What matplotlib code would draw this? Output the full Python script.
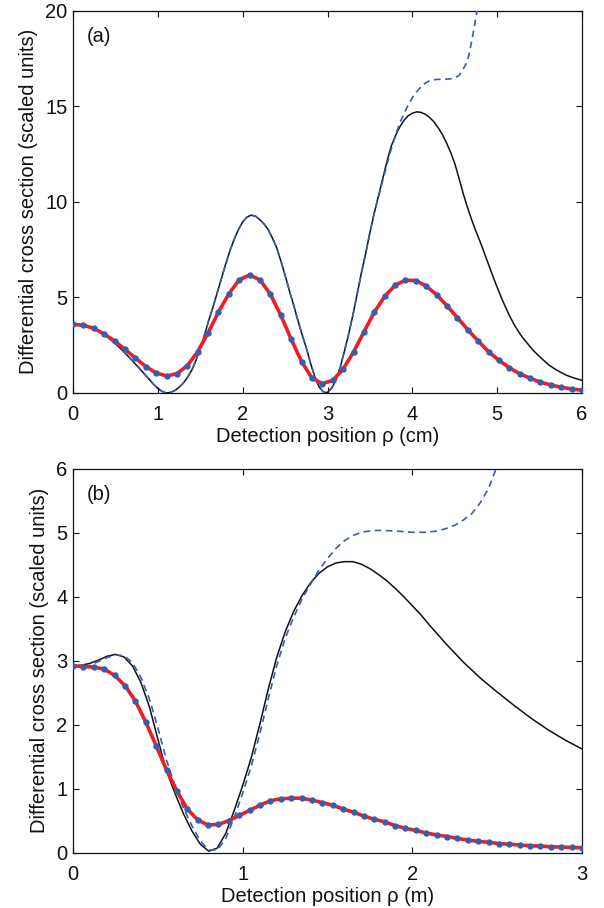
import numpy as np
import matplotlib
matplotlib.use("Agg")
import matplotlib.pyplot as plt

plt.rcParams['font.family'] = ['Liberation Sans', 'DejaVu Sans']

# ---------------- Panel (a) data ----------------
a_dot_x = np.linspace(0, 6, 50)
a_red_y = [3.59, 3.54, 3.38, 3.08, 2.72, 2.28, 1.83, 1.38, 1.05, 0.89,
           1.01, 1.43, 2.16, 3.15, 4.23, 5.19, 5.92, 6.17, 5.91, 5.16,
           4.06, 2.81, 1.64, 0.78, 0.49, 0.66, 1.25, 2.14, 3.19, 4.23,
           5.05, 5.63, 5.90, 5.88, 5.59, 5.14, 4.56, 3.94, 3.31, 2.72,
           2.16, 1.71, 1.32, 1.01, 0.77, 0.56, 0.42, 0.30, 0.21, 0.14]

a_black_x = [0.0, 0.1, 0.2, 0.3, 0.4, 0.5, 0.6, 0.7, 0.8, 0.9, 0.95, 1.0, 1.05,
             1.1, 1.15, 1.2, 1.25, 1.3, 1.35, 1.4, 1.45, 1.5, 1.55, 1.6, 1.65,
             1.7, 1.75, 1.8, 1.85, 1.9, 1.95, 2.0, 2.05, 2.1, 2.15, 2.2, 2.25,
             2.3, 2.35, 2.4, 2.45, 2.5, 2.55, 2.6, 2.65, 2.7, 2.75, 2.8, 2.85,
             2.9, 2.95, 2.98, 3.0, 3.05, 3.1, 3.15, 3.2, 3.25, 3.3, 3.35, 3.4,
             3.45, 3.5, 3.55, 3.6, 3.65, 3.7, 3.75, 3.8, 3.85, 3.9, 3.95, 4.0,
             4.05, 4.1, 4.15, 4.2, 4.25, 4.3, 4.35, 4.4, 4.45, 4.5, 4.55, 4.6,
             4.65, 4.7, 4.75, 4.8, 4.85, 4.9, 4.95, 5.0, 5.05, 5.1, 5.15, 5.2,
             5.26, 5.3, 5.42, 5.5, 5.61, 5.7, 5.81, 5.9, 6.0]
a_black_y = [3.60, 3.56, 3.45, 3.25, 2.95, 2.57, 2.15, 1.68, 1.20, 0.70, 0.45,
             0.24, 0.08, 0.0, 0.03, 0.13, 0.30, 0.52, 0.82, 1.20, 1.72, 2.35,
             3.05, 3.80, 4.50, 5.25, 6.00, 6.75, 7.45, 8.05, 8.55, 8.95, 9.20,
             9.30, 9.25, 9.07, 8.85, 8.55, 8.10, 7.60, 6.90, 6.15, 5.35, 4.60,
             3.80, 3.05, 2.35, 1.55, 0.85, 0.32, 0.06, 0.02, 0.04, 0.26, 0.70,
             1.35, 2.20, 3.10, 4.10, 5.20, 6.30, 7.30, 8.40, 9.40, 10.30, 11.2,
             12.1, 12.9, 13.45, 13.9, 14.25, 14.5, 14.63, 14.7, 14.68, 14.58,
             14.42, 14.2, 13.9, 13.55, 13.1, 12.6, 12.0, 11.22, 10.42, 9.7,
             9.05, 8.45, 7.9, 7.3, 6.7, 6.1, 5.52, 4.98, 4.47, 4.0, 3.58, 3.15,
             2.9, 2.25, 1.9, 1.46, 1.2, 0.94, 0.79, 0.66]

a_dash_x = [0.0, 0.1, 0.2, 0.3, 0.4, 0.5, 0.6, 0.7, 0.8, 0.9, 0.95, 1.0, 1.05,
            1.1, 1.15, 1.2, 1.25, 1.3, 1.35, 1.4, 1.45, 1.5, 1.55, 1.6, 1.65,
            1.7, 1.75, 1.8, 1.85, 1.9, 1.95, 2.0, 2.05, 2.1, 2.15, 2.2, 2.25,
            2.3, 2.35, 2.4, 2.45, 2.5, 2.55, 2.6, 2.65, 2.7, 2.75, 2.8, 2.85,
            2.9, 2.95, 2.98, 3.0, 3.05, 3.1, 3.15, 3.2, 3.25, 3.3, 3.35, 3.4,
            3.45, 3.5, 3.55, 3.6, 3.65, 3.7, 3.75, 3.8, 3.85, 3.9, 3.95, 4.0,
            4.05, 4.1, 4.15, 4.2, 4.25, 4.3, 4.35, 4.4, 4.45, 4.5, 4.55, 4.6,
            4.65, 4.7, 4.75, 4.8]
a_dash_y = [3.60, 3.56, 3.45, 3.25, 2.95, 2.57, 2.15, 1.68, 1.20, 0.70, 0.45,
            0.24, 0.08, 0.0, 0.03, 0.13, 0.30, 0.52, 0.82, 1.20, 1.72, 2.35,
            3.05, 3.80, 4.50, 5.25, 6.00, 6.75, 7.45, 8.05, 8.55, 8.95, 9.20,
            9.30, 9.25, 9.07, 8.85, 8.55, 8.10, 7.60, 6.90, 6.15, 5.35, 4.60,
            3.80, 3.05, 2.35, 1.55, 0.85, 0.32, 0.06, 0.02, 0.04, 0.26, 0.70,
            1.35, 2.20, 3.10, 4.10, 5.20, 6.30, 7.30, 8.40, 9.40, 10.25, 11.1,
            11.95, 12.75, 13.45, 14.1, 14.6, 15.05, 15.45, 15.75, 16.0, 16.2,
            16.32, 16.38, 16.4, 16.4, 16.41, 16.43, 16.48, 16.6, 16.95, 17.35,
            18.4, 19.65, 21.0]

# ---------------- Panel (b) data ----------------
b_dot_x = np.linspace(0, 3, 50)
b_red_y = [2.92, 2.91, 2.90, 2.87, 2.77, 2.61, 2.37, 2.04, 1.67, 1.29,
           0.96, 0.68, 0.51, 0.43, 0.44, 0.50, 0.58, 0.66, 0.74, 0.81,
           0.84, 0.85, 0.85, 0.82, 0.78, 0.74, 0.68, 0.63, 0.57, 0.52,
           0.48, 0.42, 0.38, 0.345, 0.305, 0.275, 0.25, 0.22, 0.195, 0.175,
           0.16, 0.14, 0.13, 0.117, 0.106, 0.10, 0.09, 0.085, 0.08, 0.075]

b_black_x = [0.0, 0.05, 0.1, 0.15, 0.2, 0.25, 0.3, 0.35, 0.4, 0.45, 0.5, 0.55,
             0.6, 0.65, 0.7, 0.75, 0.8, 0.85, 0.9, 0.95, 1.0, 1.05, 1.1, 1.15,
             1.2, 1.25, 1.3, 1.35, 1.4, 1.45, 1.5, 1.55, 1.6, 1.65, 1.7, 1.75,
             1.8, 1.85, 1.9, 1.95, 2.0, 2.05, 2.1, 2.15, 2.2, 2.3, 2.4, 2.5,
             2.6, 2.7, 2.8, 2.9, 3.0]
b_black_y = [2.92, 2.93, 2.96, 3.01, 3.07, 3.10, 3.06, 2.92, 2.66, 2.28, 1.77,
             1.28, 0.93, 0.61, 0.34, 0.13, 0.02, 0.07, 0.30, 0.66, 1.05, 1.48,
             2.0, 2.55, 3.05, 3.45, 3.77, 4.02, 4.22, 4.37, 4.47, 4.53, 4.55,
             4.55, 4.51, 4.44, 4.35, 4.25, 4.13, 4.0, 3.86, 3.72, 3.56, 3.41,
             3.26, 2.98, 2.73, 2.51, 2.30, 2.10, 1.92, 1.76, 1.62]

b_dash_x = [0.0, 0.05, 0.1, 0.15, 0.2, 0.25, 0.3, 0.35, 0.4, 0.45, 0.5, 0.55,
            0.6, 0.65, 0.7, 0.75, 0.8, 0.85, 0.9, 0.95, 1.0, 1.05, 1.1, 1.15,
            1.2, 1.25, 1.3, 1.35, 1.4, 1.45, 1.5, 1.55, 1.6, 1.65, 1.7, 1.75,
            1.8, 1.9, 2.0, 2.08, 2.15, 2.2, 2.25, 2.3, 2.35, 2.4, 2.45, 2.5]
b_dash_y = [2.92, 2.90, 2.93, 2.99, 3.05, 3.09, 3.08, 2.97, 2.74, 2.40, 1.95,
            1.45, 1.05, 0.70, 0.42, 0.18, 0.04, 0.04, 0.22, 0.55, 0.93, 1.35,
            1.85, 2.40, 2.92, 3.35, 3.68, 3.97, 4.20, 4.42, 4.60, 4.76, 4.88,
            4.96, 5.01, 5.03, 5.04, 5.03, 5.01, 5.01, 5.03, 5.07, 5.12, 5.20,
            5.30, 5.47, 5.70, 6.05]

panel_labels = ['(a)', '(b)']
x_labels = ['Detection position \u03c1 (cm)', 'Detection position \u03c1 (m)']
y_label = 'Differential cross section (scaled units)'
x_ticks = [[0, 1, 2, 3, 4, 5, 6], [0, 1, 2, 3]]
y_ticks = [[0, 5, 10, 15, 20], [0, 1, 2, 3, 4, 5, 6]]

BLUE = '#3b5cab'
RED = '#ee1d25'
FS = 14.5

fig = plt.figure(figsize=(6.04, 9.08), dpi=100)
ax_a = fig.add_axes([0.121, 0.5672, 0.8426, 0.4212])
ax_b = fig.add_axes([0.121, 0.0611, 0.8426, 0.4224])

panels = [
    (ax_a, a_black_x, a_black_y, a_dash_x, a_dash_y, a_dot_x, a_red_y),
    (ax_b, b_black_x, b_black_y, b_dash_x, b_dash_y, b_dot_x, b_red_y),
]

for i, (ax, bx, by, dx, dy, rx, ry) in enumerate(panels):
    ax.plot(bx, by, color='#111111', lw=1.1, zorder=2)
    ax.plot(dx, dy, color=BLUE, lw=1.2, ls=(0, (4, 2.7)), zorder=3)
    ax.plot(rx, ry, color=RED, lw=2.6, zorder=4)
    ax.plot(rx, ry, ls='none', marker='o', ms=4.6, mfc=BLUE, mec=BLUE,
            mew=0, zorder=5)
    ax.set_xlim(x_ticks[i][0], x_ticks[i][-1])
    ax.set_ylim(y_ticks[i][0], y_ticks[i][-1])
    ax.set_xticks(x_ticks[i])
    ax.set_yticks(y_ticks[i])
    ax.tick_params(direction='in', length=4, width=0.8, top=True, right=True,
                   labelsize=FS, colors='#111111')
    ax.tick_params(axis='x', pad=9)
    ax.tick_params(axis='y', pad=4)
    for s in ax.spines.values():
        s.set_linewidth(0.9)
        s.set_color('#111111')
    ax.set_xlabel(x_labels[i], fontsize=FS, labelpad=2, color='#111111')
    ax.set_ylabel(y_label, fontsize=FS, labelpad=5, color='#111111')
    ax.text(0.026, 0.957, panel_labels[i], transform=ax.transAxes,
            ha='left', va='top', fontsize=FS, color='#111111')

fig.savefig('out.png', dpi=100)
